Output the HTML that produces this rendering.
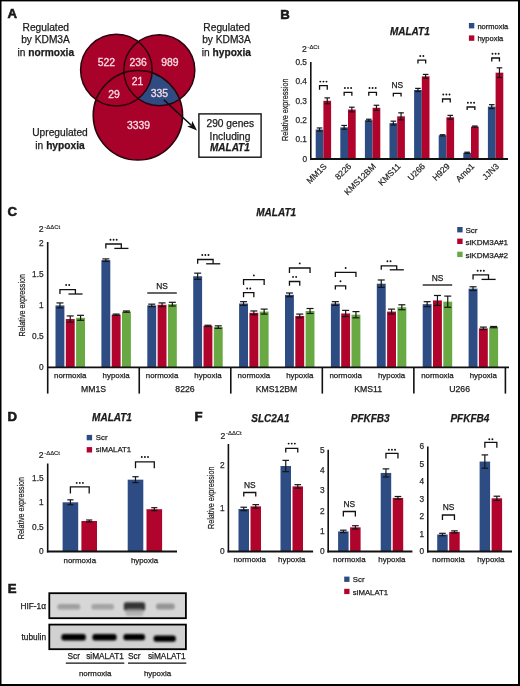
<!DOCTYPE html>
<html><head><meta charset="utf-8"><title>Figure</title>
<style>
html,body{margin:0;padding:0;background:#fff;}
body{width:520px;height:686px;overflow:hidden;font-family:"Liberation Sans",sans-serif;}
svg{display:block;will-change:transform;}
text{font-family:"Liberation Sans",sans-serif;}
</style></head><body>
<svg width="520" height="686" viewBox="0 0 520 686" font-family="Liberation Sans, sans-serif">
<rect x="0" y="0" width="520" height="1.4" fill="#000"/>
<rect x="0" y="0" width="1.5" height="686" fill="#000"/>
<rect x="518" y="0" width="2" height="686" fill="#000"/>
<rect x="0" y="684" width="520" height="2" fill="#000"/>
<text x="7.4" y="18.4" font-size="13.2" font-weight="bold" fill="#1b1b1b" stroke="#111" stroke-width="0.55">A</text>
<text x="280.3" y="18.5" font-size="13.2" font-weight="bold" fill="#1b1b1b" stroke="#111" stroke-width="0.55">B</text>
<text x="7.6" y="216" font-size="13.2" font-weight="bold" fill="#1b1b1b" stroke="#111" stroke-width="0.55">C</text>
<text x="7.6" y="421.4" font-size="13.2" font-weight="bold" fill="#1b1b1b" stroke="#111" stroke-width="0.55">D</text>
<text x="194.4" y="421.1" font-size="13.2" font-weight="bold" fill="#1b1b1b" stroke="#111" stroke-width="0.55">F</text>
<text x="7.7" y="592.6" font-size="13.2" font-weight="bold" fill="#1b1b1b" stroke="#111" stroke-width="0.55">E</text>
<defs><clipPath id="cb"><circle cx="137.9" cy="115.3" r="44.7"/></clipPath></defs>
<circle cx="116.4" cy="70.1" r="35.8" fill="#a8022b"/>
<circle cx="159.3" cy="70.2" r="35.5" fill="#a8022b"/>
<circle cx="137.9" cy="115.3" r="44.7" fill="#a8022b"/>
<circle cx="159.3" cy="70.2" r="35.5" fill="#2f4b82" clip-path="url(#cb)"/>
<circle cx="116.4" cy="70.1" r="35.8" fill="#a8022b"/>
<circle cx="116.4" cy="70.1" r="35.8" fill="none" stroke="#2a040b" stroke-width="1.5"/>
<circle cx="159.3" cy="70.2" r="35.5" fill="none" stroke="#2a040b" stroke-width="1.5"/>
<circle cx="137.9" cy="115.3" r="44.7" fill="none" stroke="#2a040b" stroke-width="1.5"/>
<text x="106.3" y="66" font-size="10.4" text-anchor="middle" fill="#f8dce2" stroke="#f8dce2" stroke-width="0.3">522</text>
<text x="138.2" y="66" font-size="10.4" text-anchor="middle" fill="#f8dce2" stroke="#f8dce2" stroke-width="0.3">236</text>
<text x="169.8" y="66.2" font-size="10.4" text-anchor="middle" fill="#f8dce2" stroke="#f8dce2" stroke-width="0.3">989</text>
<text x="137.5" y="85.4" font-size="10.4" text-anchor="middle" fill="#f8dce2" stroke="#f8dce2" stroke-width="0.3">21</text>
<text x="114" y="97.7" font-size="10.4" text-anchor="middle" fill="#f8dce2" stroke="#f8dce2" stroke-width="0.3">29</text>
<text x="159.3" y="97.4" font-size="10.4" text-anchor="middle" fill="#f8dce2" stroke="#f8dce2" stroke-width="0.3">335</text>
<text x="138.5" y="129.1" font-size="10.4" text-anchor="middle" fill="#f8dce2" stroke="#f8dce2" stroke-width="0.3">3339</text>
<text x="45.8" y="30.8" font-size="10.2" text-anchor="middle" fill="#1b1b1b" stroke="#1b1b1b" stroke-width="0.25">Regulated</text>
<text x="45.5" y="43.3" font-size="10.2" text-anchor="middle" fill="#1b1b1b" stroke="#1b1b1b" stroke-width="0.25">by KDM3A</text>
<text x="45.8" y="55.9" font-size="10.2" text-anchor="middle" fill="#1b1b1b" stroke="#1b1b1b" stroke-width="0.25">in <tspan font-weight="bold">normoxia</tspan></text>
<text x="226.6" y="30.8" font-size="10.2" text-anchor="middle" fill="#1b1b1b" stroke="#1b1b1b" stroke-width="0.25">Regulated</text>
<text x="226.5" y="43.3" font-size="10.2" text-anchor="middle" fill="#1b1b1b" stroke="#1b1b1b" stroke-width="0.25">by KDM3A</text>
<text x="226.4" y="55.9" font-size="10.2" text-anchor="middle" fill="#1b1b1b" stroke="#1b1b1b" stroke-width="0.25">in <tspan font-weight="bold">hypoxia</tspan></text>
<text x="60" y="136.2" font-size="10.2" text-anchor="middle" fill="#1b1b1b" stroke="#1b1b1b" stroke-width="0.25">Upregulated</text>
<text x="60" y="148.8" font-size="10.2" text-anchor="middle" fill="#1b1b1b" stroke="#1b1b1b" stroke-width="0.25">in <tspan font-weight="bold">hypoxia</tspan></text>
<line x1="163.9" y1="99.8" x2="191" y2="125" stroke="#111" stroke-width="1.6"/>
<path d="M197.0,130.6 L187.2,126.6 L191.3,125.3 L192.3,121.0 Z" fill="#111"/>
<rect x="198.9" y="113.9" width="62.2" height="43.3" fill="#fff" stroke="#111" stroke-width="1.4"/>
<text x="230.3" y="127.3" font-size="10.2" text-anchor="middle" fill="#1b1b1b" stroke="#1b1b1b" stroke-width="0.25">290 genes</text>
<text x="230" y="139.6" font-size="10.2" text-anchor="middle" fill="#1b1b1b" stroke="#1b1b1b" stroke-width="0.25">Including</text>
<text x="229.9" y="150.9" font-size="10" text-anchor="middle" font-weight="bold" font-style="italic" fill="#1b1b1b" stroke="#1b1b1b" stroke-width="0.25">MALAT1</text>
<text x="409.8" y="35.3" font-size="10" text-anchor="middle" font-weight="bold" font-style="italic" fill="#1b1b1b" stroke="#1b1b1b" stroke-width="0.25">MALAT1</text>
<text x="301.9" y="52.2" font-size="8.7" fill="#1b1b1b" stroke="#1b1b1b" stroke-width="0.2">2<tspan font-size="5.9" dx="0.7" dy="-3.6" stroke-width="0.15">-ΔCt</tspan></text>
<text x="0" y="0" font-size="9.3" text-anchor="middle" fill="#1b1b1b" stroke="#1b1b1b" stroke-width="0.22" transform="translate(287.6 109.8) rotate(-90) scale(0.77 1)">Relative expression</text>
<text x="307" y="161.8" font-size="8.3" text-anchor="end" fill="#2a2a2a" stroke="#2a2a2a" stroke-width="0.25">0</text>
<text x="307" y="142.4" font-size="8.3" text-anchor="end" fill="#2a2a2a" stroke="#2a2a2a" stroke-width="0.25">0.1</text>
<text x="307" y="123" font-size="8.3" text-anchor="end" fill="#2a2a2a" stroke="#2a2a2a" stroke-width="0.25">0.2</text>
<text x="307" y="103.6" font-size="8.3" text-anchor="end" fill="#2a2a2a" stroke="#2a2a2a" stroke-width="0.25">0.3</text>
<text x="307" y="84.2" font-size="8.3" text-anchor="end" fill="#2a2a2a" stroke="#2a2a2a" stroke-width="0.25">0.4</text>
<text x="307" y="64.8" font-size="8.3" text-anchor="end" fill="#2a2a2a" stroke="#2a2a2a" stroke-width="0.25">0.5</text>
<rect x="315.7" y="129.51" width="7.7" height="29.49" fill="#2d4c84"/>
<rect x="323.4" y="100.8" width="7.7" height="58.2" fill="#b0042c"/>
<line x1="319.55" y1="127.96" x2="319.55" y2="131.06" stroke="#151515" stroke-width="1.2"/>
<line x1="316.75" y1="127.96" x2="322.35" y2="127.96" stroke="#151515" stroke-width="1.2"/>
<line x1="316.75" y1="131.06" x2="322.35" y2="131.06" stroke="#151515" stroke-width="1.2"/>
<line x1="327.25" y1="97.89" x2="327.25" y2="103.71" stroke="#151515" stroke-width="1.2"/>
<line x1="324.45" y1="97.89" x2="330.05" y2="97.89" stroke="#151515" stroke-width="1.2"/>
<line x1="324.45" y1="103.71" x2="330.05" y2="103.71" stroke="#151515" stroke-width="1.2"/>
<polyline points="319.55,89.7 319.55,85.6 327.25,85.6 327.25,89.7" stroke="#111" stroke-width="1.3" fill="none" stroke-linejoin="miter" stroke-linecap="butt"/>
<circle cx="320.3" cy="81.6" r="0.95" fill="#111"/>
<circle cx="323.4" cy="81.6" r="0.95" fill="#111"/>
<circle cx="326.5" cy="81.6" r="0.95" fill="#111"/>
<text x="0" y="0" font-size="8.5" text-anchor="end" fill="#1b1b1b" stroke="#1b1b1b" stroke-width="0.2" transform="translate(327.3 166.9) rotate(-45)">MM1S</text>
<rect x="340.3" y="127.38" width="7.7" height="31.62" fill="#2d4c84"/>
<rect x="348" y="109.53" width="7.7" height="49.47" fill="#b0042c"/>
<line x1="344.15" y1="125.44" x2="344.15" y2="129.32" stroke="#151515" stroke-width="1.2"/>
<line x1="341.35" y1="125.44" x2="346.95" y2="125.44" stroke="#151515" stroke-width="1.2"/>
<line x1="341.35" y1="129.32" x2="346.95" y2="129.32" stroke="#151515" stroke-width="1.2"/>
<line x1="351.85" y1="107.2" x2="351.85" y2="111.86" stroke="#151515" stroke-width="1.2"/>
<line x1="349.05" y1="107.2" x2="354.65" y2="107.2" stroke="#151515" stroke-width="1.2"/>
<line x1="349.05" y1="111.86" x2="354.65" y2="111.86" stroke="#151515" stroke-width="1.2"/>
<polyline points="344.15,95.8 344.15,92.3 351.85,92.3 351.85,95.8" stroke="#111" stroke-width="1.3" fill="none" stroke-linejoin="miter" stroke-linecap="butt"/>
<circle cx="344.9" cy="88" r="0.95" fill="#111"/>
<circle cx="348" cy="88" r="0.95" fill="#111"/>
<circle cx="351.1" cy="88" r="0.95" fill="#111"/>
<text x="0" y="0" font-size="8.5" text-anchor="end" fill="#1b1b1b" stroke="#1b1b1b" stroke-width="0.2" transform="translate(351.9 166.9) rotate(-45)">8226</text>
<rect x="364.9" y="120.2" width="7.7" height="38.8" fill="#2d4c84"/>
<rect x="372.6" y="107.78" width="7.7" height="51.22" fill="#b0042c"/>
<line x1="368.75" y1="119.23" x2="368.75" y2="121.17" stroke="#151515" stroke-width="1.2"/>
<line x1="365.95" y1="119.23" x2="371.55" y2="119.23" stroke="#151515" stroke-width="1.2"/>
<line x1="365.95" y1="121.17" x2="371.55" y2="121.17" stroke="#151515" stroke-width="1.2"/>
<line x1="376.45" y1="105.26" x2="376.45" y2="110.31" stroke="#151515" stroke-width="1.2"/>
<line x1="373.65" y1="105.26" x2="379.25" y2="105.26" stroke="#151515" stroke-width="1.2"/>
<line x1="373.65" y1="110.31" x2="379.25" y2="110.31" stroke="#151515" stroke-width="1.2"/>
<polyline points="368.75,95.8 368.75,92.3 376.45,92.3 376.45,95.8" stroke="#111" stroke-width="1.3" fill="none" stroke-linejoin="miter" stroke-linecap="butt"/>
<circle cx="369.5" cy="88" r="0.95" fill="#111"/>
<circle cx="372.6" cy="88" r="0.95" fill="#111"/>
<circle cx="375.7" cy="88" r="0.95" fill="#111"/>
<text x="0" y="0" font-size="8.5" text-anchor="end" fill="#1b1b1b" stroke="#1b1b1b" stroke-width="0.2" transform="translate(376.5 166.9) rotate(-45)">KMS12BM</text>
<rect x="389.5" y="123.11" width="7.7" height="35.89" fill="#2d4c84"/>
<rect x="397.2" y="116.32" width="7.7" height="42.68" fill="#b0042c"/>
<line x1="393.35" y1="121.17" x2="393.35" y2="125.05" stroke="#151515" stroke-width="1.2"/>
<line x1="390.55" y1="121.17" x2="396.15" y2="121.17" stroke="#151515" stroke-width="1.2"/>
<line x1="390.55" y1="125.05" x2="396.15" y2="125.05" stroke="#151515" stroke-width="1.2"/>
<line x1="401.05" y1="112.83" x2="401.05" y2="119.81" stroke="#151515" stroke-width="1.2"/>
<line x1="398.25" y1="112.83" x2="403.85" y2="112.83" stroke="#151515" stroke-width="1.2"/>
<line x1="398.25" y1="119.81" x2="403.85" y2="119.81" stroke="#151515" stroke-width="1.2"/>
<polyline points="393.35,96.6 393.35,93.4 401.05,93.4 401.05,96.6" stroke="#111" stroke-width="1.3" fill="none" stroke-linejoin="miter" stroke-linecap="butt"/>
<text x="397.2" y="88.3" font-size="8.4" text-anchor="middle" fill="#1b1b1b" stroke="#1b1b1b" stroke-width="0.25">NS</text>
<text x="0" y="0" font-size="8.5" text-anchor="end" fill="#1b1b1b" stroke="#1b1b1b" stroke-width="0.2" transform="translate(401.1 166.9) rotate(-45)">KMS11</text>
<rect x="414.1" y="89.94" width="7.7" height="69.06" fill="#2d4c84"/>
<rect x="421.8" y="76.36" width="7.7" height="82.64" fill="#b0042c"/>
<line x1="417.95" y1="88.38" x2="417.95" y2="91.49" stroke="#151515" stroke-width="1.2"/>
<line x1="415.15" y1="88.38" x2="420.75" y2="88.38" stroke="#151515" stroke-width="1.2"/>
<line x1="415.15" y1="91.49" x2="420.75" y2="91.49" stroke="#151515" stroke-width="1.2"/>
<line x1="425.65" y1="74.42" x2="425.65" y2="78.3" stroke="#151515" stroke-width="1.2"/>
<line x1="422.85" y1="74.42" x2="428.45" y2="74.42" stroke="#151515" stroke-width="1.2"/>
<line x1="422.85" y1="78.3" x2="428.45" y2="78.3" stroke="#151515" stroke-width="1.2"/>
<polyline points="417.95,63.4 417.95,60.2 425.65,60.2 425.65,63.4" stroke="#111" stroke-width="1.3" fill="none" stroke-linejoin="miter" stroke-linecap="butt"/>
<circle cx="420.25" cy="56" r="0.95" fill="#111"/>
<circle cx="423.35" cy="56" r="0.95" fill="#111"/>
<text x="0" y="0" font-size="8.5" text-anchor="end" fill="#1b1b1b" stroke="#1b1b1b" stroke-width="0.2" transform="translate(425.7 166.9) rotate(-45)">U266</text>
<rect x="438.7" y="135.33" width="7.7" height="23.67" fill="#2d4c84"/>
<rect x="446.4" y="117.29" width="7.7" height="41.71" fill="#b0042c"/>
<line x1="442.55" y1="134.75" x2="442.55" y2="135.91" stroke="#151515" stroke-width="1.2"/>
<line x1="439.75" y1="134.75" x2="445.35" y2="134.75" stroke="#151515" stroke-width="1.2"/>
<line x1="439.75" y1="135.91" x2="445.35" y2="135.91" stroke="#151515" stroke-width="1.2"/>
<line x1="450.25" y1="115.35" x2="450.25" y2="119.23" stroke="#151515" stroke-width="1.2"/>
<line x1="447.45" y1="115.35" x2="453.05" y2="115.35" stroke="#151515" stroke-width="1.2"/>
<line x1="447.45" y1="119.23" x2="453.05" y2="119.23" stroke="#151515" stroke-width="1.2"/>
<polyline points="442.55,102.4 442.55,99 450.25,99 450.25,102.4" stroke="#111" stroke-width="1.3" fill="none" stroke-linejoin="miter" stroke-linecap="butt"/>
<circle cx="443.3" cy="94.5" r="0.95" fill="#111"/>
<circle cx="446.4" cy="94.5" r="0.95" fill="#111"/>
<circle cx="449.5" cy="94.5" r="0.95" fill="#111"/>
<text x="0" y="0" font-size="8.5" text-anchor="end" fill="#1b1b1b" stroke="#1b1b1b" stroke-width="0.2" transform="translate(450.3 166.9) rotate(-45)">H929</text>
<rect x="463.3" y="152.79" width="7.7" height="6.21" fill="#2d4c84"/>
<rect x="471" y="126.6" width="7.7" height="32.4" fill="#b0042c"/>
<line x1="467.15" y1="152.21" x2="467.15" y2="153.37" stroke="#151515" stroke-width="1.2"/>
<line x1="464.35" y1="152.21" x2="469.95" y2="152.21" stroke="#151515" stroke-width="1.2"/>
<line x1="464.35" y1="153.37" x2="469.95" y2="153.37" stroke="#151515" stroke-width="1.2"/>
<line x1="474.85" y1="126.02" x2="474.85" y2="127.18" stroke="#151515" stroke-width="1.2"/>
<line x1="472.05" y1="126.02" x2="477.65" y2="126.02" stroke="#151515" stroke-width="1.2"/>
<line x1="472.05" y1="127.18" x2="477.65" y2="127.18" stroke="#151515" stroke-width="1.2"/>
<polyline points="467.15,110 467.15,107 474.85,107 474.85,110" stroke="#111" stroke-width="1.3" fill="none" stroke-linejoin="miter" stroke-linecap="butt"/>
<circle cx="467.9" cy="102.8" r="0.95" fill="#111"/>
<circle cx="471" cy="102.8" r="0.95" fill="#111"/>
<circle cx="474.1" cy="102.8" r="0.95" fill="#111"/>
<text x="0" y="0" font-size="8.5" text-anchor="end" fill="#1b1b1b" stroke="#1b1b1b" stroke-width="0.2" transform="translate(474.9 166.9) rotate(-45)">Amo1</text>
<rect x="487.9" y="106.62" width="7.7" height="52.38" fill="#2d4c84"/>
<rect x="495.6" y="72.67" width="7.7" height="86.33" fill="#b0042c"/>
<line x1="491.75" y1="104.68" x2="491.75" y2="108.56" stroke="#151515" stroke-width="1.2"/>
<line x1="488.95" y1="104.68" x2="494.55" y2="104.68" stroke="#151515" stroke-width="1.2"/>
<line x1="488.95" y1="108.56" x2="494.55" y2="108.56" stroke="#151515" stroke-width="1.2"/>
<line x1="499.45" y1="67.82" x2="499.45" y2="77.52" stroke="#151515" stroke-width="1.2"/>
<line x1="496.65" y1="67.82" x2="502.25" y2="67.82" stroke="#151515" stroke-width="1.2"/>
<line x1="496.65" y1="77.52" x2="502.25" y2="77.52" stroke="#151515" stroke-width="1.2"/>
<polyline points="491.75,61.4 491.75,58 499.45,58 499.45,61.4" stroke="#111" stroke-width="1.3" fill="none" stroke-linejoin="miter" stroke-linecap="butt"/>
<circle cx="492.5" cy="53.8" r="0.95" fill="#111"/>
<circle cx="495.6" cy="53.8" r="0.95" fill="#111"/>
<circle cx="498.7" cy="53.8" r="0.95" fill="#111"/>
<text x="0" y="0" font-size="8.5" text-anchor="end" fill="#1b1b1b" stroke="#1b1b1b" stroke-width="0.2" transform="translate(499.5 166.9) rotate(-45)">JJN3</text>
<line x1="310.8" y1="62" x2="310.8" y2="159.9" stroke="#111" stroke-width="1.6"/>
<line x1="310" y1="159" x2="508" y2="159" stroke="#111" stroke-width="1.8"/>
<rect x="468.9" y="23" width="5.4" height="5.4" fill="#2d4c84"/>
<rect x="468.9" y="35.4" width="5.4" height="5.4" fill="#b0042c"/>
<text x="477.4" y="29" font-size="7.5" fill="#1b1b1b" stroke="#1b1b1b" stroke-width="0.25">normoxia</text>
<text x="477.4" y="41.2" font-size="7.5" fill="#1b1b1b" stroke="#1b1b1b" stroke-width="0.25">hypoxia</text>
<text x="276.2" y="215.6" font-size="10" text-anchor="middle" font-weight="bold" font-style="italic" fill="#1b1b1b" stroke="#1b1b1b" stroke-width="0.25">MALAT1</text>
<text x="38.8" y="232" font-size="8.7" fill="#1b1b1b" stroke="#1b1b1b" stroke-width="0.2">2<tspan font-size="5.9" dx="0.7" dy="-2.8" stroke-width="0.15">-ΔΔCt</tspan></text>
<text x="0" y="0" font-size="9.3" text-anchor="middle" fill="#1b1b1b" stroke="#1b1b1b" stroke-width="0.22" transform="translate(25.1 305.2) rotate(-90) scale(0.77 1)">Relative expression</text>
<text x="43.6" y="370.2" font-size="8.3" text-anchor="end" fill="#2a2a2a" stroke="#2a2a2a" stroke-width="0.25">0</text>
<text x="43.6" y="339.2" font-size="8.3" text-anchor="end" fill="#2a2a2a" stroke="#2a2a2a" stroke-width="0.25">0.5</text>
<text x="43.6" y="308.2" font-size="8.3" text-anchor="end" fill="#2a2a2a" stroke="#2a2a2a" stroke-width="0.25">1</text>
<text x="43.6" y="277.2" font-size="8.3" text-anchor="end" fill="#2a2a2a" stroke="#2a2a2a" stroke-width="0.25">1.5</text>
<text x="43.6" y="246.2" font-size="8.3" text-anchor="end" fill="#2a2a2a" stroke="#2a2a2a" stroke-width="0.25">2</text>
<rect x="55.5" y="305.4" width="8.9" height="62" fill="#2d4c84"/>
<rect x="65.8" y="319.04" width="8.9" height="48.36" fill="#b0042c"/>
<rect x="76.1" y="317.8" width="8.9" height="49.6" fill="#69a944"/>
<line x1="59.95" y1="302.92" x2="59.95" y2="307.88" stroke="#151515" stroke-width="1.2"/>
<line x1="56.45" y1="302.92" x2="63.45" y2="302.92" stroke="#151515" stroke-width="1.2"/>
<line x1="56.45" y1="307.88" x2="63.45" y2="307.88" stroke="#151515" stroke-width="1.2"/>
<line x1="70.25" y1="315.94" x2="70.25" y2="322.14" stroke="#151515" stroke-width="1.2"/>
<line x1="66.75" y1="315.94" x2="73.75" y2="315.94" stroke="#151515" stroke-width="1.2"/>
<line x1="66.75" y1="322.14" x2="73.75" y2="322.14" stroke="#151515" stroke-width="1.2"/>
<line x1="80.55" y1="315.32" x2="80.55" y2="320.28" stroke="#151515" stroke-width="1.2"/>
<line x1="77.05" y1="315.32" x2="84.05" y2="315.32" stroke="#151515" stroke-width="1.2"/>
<line x1="77.05" y1="320.28" x2="84.05" y2="320.28" stroke="#151515" stroke-width="1.2"/>
<rect x="101.4" y="260.14" width="8.9" height="107.26" fill="#2d4c84"/>
<rect x="111.7" y="314.7" width="8.9" height="52.7" fill="#b0042c"/>
<rect x="122" y="311.6" width="8.9" height="55.8" fill="#69a944"/>
<line x1="105.85" y1="258.9" x2="105.85" y2="261.38" stroke="#151515" stroke-width="1.2"/>
<line x1="102.35" y1="258.9" x2="109.35" y2="258.9" stroke="#151515" stroke-width="1.2"/>
<line x1="102.35" y1="261.38" x2="109.35" y2="261.38" stroke="#151515" stroke-width="1.2"/>
<line x1="116.15" y1="314.08" x2="116.15" y2="315.32" stroke="#151515" stroke-width="1.2"/>
<line x1="112.65" y1="314.08" x2="119.65" y2="314.08" stroke="#151515" stroke-width="1.2"/>
<line x1="112.65" y1="315.32" x2="119.65" y2="315.32" stroke="#151515" stroke-width="1.2"/>
<line x1="126.45" y1="310.98" x2="126.45" y2="312.22" stroke="#151515" stroke-width="1.2"/>
<line x1="122.95" y1="310.98" x2="129.95" y2="310.98" stroke="#151515" stroke-width="1.2"/>
<line x1="122.95" y1="312.22" x2="129.95" y2="312.22" stroke="#151515" stroke-width="1.2"/>
<rect x="147.3" y="305.4" width="8.9" height="62" fill="#2d4c84"/>
<rect x="157.6" y="304.78" width="8.9" height="62.62" fill="#b0042c"/>
<rect x="167.9" y="304.16" width="8.9" height="63.24" fill="#69a944"/>
<line x1="151.75" y1="304.16" x2="151.75" y2="306.64" stroke="#151515" stroke-width="1.2"/>
<line x1="148.25" y1="304.16" x2="155.25" y2="304.16" stroke="#151515" stroke-width="1.2"/>
<line x1="148.25" y1="306.64" x2="155.25" y2="306.64" stroke="#151515" stroke-width="1.2"/>
<line x1="162.05" y1="302.92" x2="162.05" y2="306.64" stroke="#151515" stroke-width="1.2"/>
<line x1="158.55" y1="302.92" x2="165.55" y2="302.92" stroke="#151515" stroke-width="1.2"/>
<line x1="158.55" y1="306.64" x2="165.55" y2="306.64" stroke="#151515" stroke-width="1.2"/>
<line x1="172.35" y1="302.3" x2="172.35" y2="306.02" stroke="#151515" stroke-width="1.2"/>
<line x1="168.85" y1="302.3" x2="175.85" y2="302.3" stroke="#151515" stroke-width="1.2"/>
<line x1="168.85" y1="306.02" x2="175.85" y2="306.02" stroke="#151515" stroke-width="1.2"/>
<rect x="193.2" y="276.26" width="8.9" height="91.14" fill="#2d4c84"/>
<rect x="203.5" y="325.86" width="8.9" height="41.54" fill="#b0042c"/>
<rect x="213.8" y="327.1" width="8.9" height="40.3" fill="#69a944"/>
<line x1="197.65" y1="273.16" x2="197.65" y2="279.36" stroke="#151515" stroke-width="1.2"/>
<line x1="194.15" y1="273.16" x2="201.15" y2="273.16" stroke="#151515" stroke-width="1.2"/>
<line x1="194.15" y1="279.36" x2="201.15" y2="279.36" stroke="#151515" stroke-width="1.2"/>
<line x1="207.95" y1="325.24" x2="207.95" y2="326.48" stroke="#151515" stroke-width="1.2"/>
<line x1="204.45" y1="325.24" x2="211.45" y2="325.24" stroke="#151515" stroke-width="1.2"/>
<line x1="204.45" y1="326.48" x2="211.45" y2="326.48" stroke="#151515" stroke-width="1.2"/>
<line x1="218.25" y1="325.86" x2="218.25" y2="328.34" stroke="#151515" stroke-width="1.2"/>
<line x1="214.75" y1="325.86" x2="221.75" y2="325.86" stroke="#151515" stroke-width="1.2"/>
<line x1="214.75" y1="328.34" x2="221.75" y2="328.34" stroke="#151515" stroke-width="1.2"/>
<rect x="239.1" y="303.54" width="8.9" height="63.86" fill="#2d4c84"/>
<rect x="249.4" y="312.84" width="8.9" height="54.56" fill="#b0042c"/>
<rect x="259.7" y="311.6" width="8.9" height="55.8" fill="#69a944"/>
<line x1="243.55" y1="301.68" x2="243.55" y2="305.4" stroke="#151515" stroke-width="1.2"/>
<line x1="240.05" y1="301.68" x2="247.05" y2="301.68" stroke="#151515" stroke-width="1.2"/>
<line x1="240.05" y1="305.4" x2="247.05" y2="305.4" stroke="#151515" stroke-width="1.2"/>
<line x1="253.85" y1="310.98" x2="253.85" y2="314.7" stroke="#151515" stroke-width="1.2"/>
<line x1="250.35" y1="310.98" x2="257.35" y2="310.98" stroke="#151515" stroke-width="1.2"/>
<line x1="250.35" y1="314.7" x2="257.35" y2="314.7" stroke="#151515" stroke-width="1.2"/>
<line x1="264.15" y1="309.12" x2="264.15" y2="314.08" stroke="#151515" stroke-width="1.2"/>
<line x1="260.65" y1="309.12" x2="267.65" y2="309.12" stroke="#151515" stroke-width="1.2"/>
<line x1="260.65" y1="314.08" x2="267.65" y2="314.08" stroke="#151515" stroke-width="1.2"/>
<rect x="285" y="294.86" width="8.9" height="72.54" fill="#2d4c84"/>
<rect x="295.3" y="315.94" width="8.9" height="51.46" fill="#b0042c"/>
<rect x="305.6" y="310.98" width="8.9" height="56.42" fill="#69a944"/>
<line x1="289.45" y1="293" x2="289.45" y2="296.72" stroke="#151515" stroke-width="1.2"/>
<line x1="285.95" y1="293" x2="292.95" y2="293" stroke="#151515" stroke-width="1.2"/>
<line x1="285.95" y1="296.72" x2="292.95" y2="296.72" stroke="#151515" stroke-width="1.2"/>
<line x1="299.75" y1="314.08" x2="299.75" y2="317.8" stroke="#151515" stroke-width="1.2"/>
<line x1="296.25" y1="314.08" x2="303.25" y2="314.08" stroke="#151515" stroke-width="1.2"/>
<line x1="296.25" y1="317.8" x2="303.25" y2="317.8" stroke="#151515" stroke-width="1.2"/>
<line x1="310.05" y1="308.5" x2="310.05" y2="313.46" stroke="#151515" stroke-width="1.2"/>
<line x1="306.55" y1="308.5" x2="313.55" y2="308.5" stroke="#151515" stroke-width="1.2"/>
<line x1="306.55" y1="313.46" x2="313.55" y2="313.46" stroke="#151515" stroke-width="1.2"/>
<rect x="330.9" y="303.54" width="8.9" height="63.86" fill="#2d4c84"/>
<rect x="341.2" y="313.46" width="8.9" height="53.94" fill="#b0042c"/>
<rect x="351.5" y="314.7" width="8.9" height="52.7" fill="#69a944"/>
<line x1="335.35" y1="301.68" x2="335.35" y2="305.4" stroke="#151515" stroke-width="1.2"/>
<line x1="331.85" y1="301.68" x2="338.85" y2="301.68" stroke="#151515" stroke-width="1.2"/>
<line x1="331.85" y1="305.4" x2="338.85" y2="305.4" stroke="#151515" stroke-width="1.2"/>
<line x1="345.65" y1="310.36" x2="345.65" y2="316.56" stroke="#151515" stroke-width="1.2"/>
<line x1="342.15" y1="310.36" x2="349.15" y2="310.36" stroke="#151515" stroke-width="1.2"/>
<line x1="342.15" y1="316.56" x2="349.15" y2="316.56" stroke="#151515" stroke-width="1.2"/>
<line x1="355.95" y1="311.6" x2="355.95" y2="317.8" stroke="#151515" stroke-width="1.2"/>
<line x1="352.45" y1="311.6" x2="359.45" y2="311.6" stroke="#151515" stroke-width="1.2"/>
<line x1="352.45" y1="317.8" x2="359.45" y2="317.8" stroke="#151515" stroke-width="1.2"/>
<rect x="376.8" y="283.7" width="8.9" height="83.7" fill="#2d4c84"/>
<rect x="387.1" y="311.6" width="8.9" height="55.8" fill="#b0042c"/>
<rect x="397.4" y="307.26" width="8.9" height="60.14" fill="#69a944"/>
<line x1="381.25" y1="279.98" x2="381.25" y2="287.42" stroke="#151515" stroke-width="1.2"/>
<line x1="377.75" y1="279.98" x2="384.75" y2="279.98" stroke="#151515" stroke-width="1.2"/>
<line x1="377.75" y1="287.42" x2="384.75" y2="287.42" stroke="#151515" stroke-width="1.2"/>
<line x1="391.55" y1="309.12" x2="391.55" y2="314.08" stroke="#151515" stroke-width="1.2"/>
<line x1="388.05" y1="309.12" x2="395.05" y2="309.12" stroke="#151515" stroke-width="1.2"/>
<line x1="388.05" y1="314.08" x2="395.05" y2="314.08" stroke="#151515" stroke-width="1.2"/>
<line x1="401.85" y1="304.78" x2="401.85" y2="309.74" stroke="#151515" stroke-width="1.2"/>
<line x1="398.35" y1="304.78" x2="405.35" y2="304.78" stroke="#151515" stroke-width="1.2"/>
<line x1="398.35" y1="309.74" x2="405.35" y2="309.74" stroke="#151515" stroke-width="1.2"/>
<rect x="422.7" y="304.16" width="8.9" height="63.24" fill="#2d4c84"/>
<rect x="433" y="300.44" width="8.9" height="66.96" fill="#b0042c"/>
<rect x="443.3" y="301.68" width="8.9" height="65.72" fill="#69a944"/>
<line x1="427.15" y1="301.68" x2="427.15" y2="306.64" stroke="#151515" stroke-width="1.2"/>
<line x1="423.65" y1="301.68" x2="430.65" y2="301.68" stroke="#151515" stroke-width="1.2"/>
<line x1="423.65" y1="306.64" x2="430.65" y2="306.64" stroke="#151515" stroke-width="1.2"/>
<line x1="437.45" y1="295.48" x2="437.45" y2="305.4" stroke="#151515" stroke-width="1.2"/>
<line x1="433.95" y1="295.48" x2="440.95" y2="295.48" stroke="#151515" stroke-width="1.2"/>
<line x1="433.95" y1="305.4" x2="440.95" y2="305.4" stroke="#151515" stroke-width="1.2"/>
<line x1="447.75" y1="296.1" x2="447.75" y2="307.26" stroke="#151515" stroke-width="1.2"/>
<line x1="444.25" y1="296.1" x2="451.25" y2="296.1" stroke="#151515" stroke-width="1.2"/>
<line x1="444.25" y1="307.26" x2="451.25" y2="307.26" stroke="#151515" stroke-width="1.2"/>
<rect x="468.6" y="288.66" width="8.9" height="78.74" fill="#2d4c84"/>
<rect x="478.9" y="328.34" width="8.9" height="39.06" fill="#b0042c"/>
<rect x="489.2" y="327.1" width="8.9" height="40.3" fill="#69a944"/>
<line x1="473.05" y1="286.8" x2="473.05" y2="290.52" stroke="#151515" stroke-width="1.2"/>
<line x1="469.55" y1="286.8" x2="476.55" y2="286.8" stroke="#151515" stroke-width="1.2"/>
<line x1="469.55" y1="290.52" x2="476.55" y2="290.52" stroke="#151515" stroke-width="1.2"/>
<line x1="483.35" y1="327.1" x2="483.35" y2="329.58" stroke="#151515" stroke-width="1.2"/>
<line x1="479.85" y1="327.1" x2="486.85" y2="327.1" stroke="#151515" stroke-width="1.2"/>
<line x1="479.85" y1="329.58" x2="486.85" y2="329.58" stroke="#151515" stroke-width="1.2"/>
<line x1="493.65" y1="326.48" x2="493.65" y2="327.72" stroke="#151515" stroke-width="1.2"/>
<line x1="490.15" y1="326.48" x2="497.15" y2="326.48" stroke="#151515" stroke-width="1.2"/>
<line x1="490.15" y1="327.72" x2="497.15" y2="327.72" stroke="#151515" stroke-width="1.2"/>
<polyline points="59.95,294 59.95,289.6 75.4,289.6 75.4,294" stroke="#111" stroke-width="1.3" fill="none" stroke-linejoin="miter" stroke-linecap="butt"/>
<line x1="68.45" y1="294" x2="82.55" y2="294" stroke="#111" stroke-width="1.3"/>
<circle cx="66.13" cy="285" r="0.95" fill="#111"/>
<circle cx="69.23" cy="285" r="0.95" fill="#111"/>
<polyline points="105.85,248.4 105.85,244 121.3,244 121.3,248.4" stroke="#111" stroke-width="1.3" fill="none" stroke-linejoin="miter" stroke-linecap="butt"/>
<line x1="114.35" y1="248.4" x2="128.45" y2="248.4" stroke="#111" stroke-width="1.3"/>
<circle cx="110.48" cy="239.7" r="0.95" fill="#111"/>
<circle cx="113.58" cy="239.7" r="0.95" fill="#111"/>
<circle cx="116.68" cy="239.7" r="0.95" fill="#111"/>
<line x1="147.3" y1="293" x2="176.8" y2="293" stroke="#111" stroke-width="1.3"/>
<text x="162.05" y="289.2" font-size="8.4" text-anchor="middle" fill="#1b1b1b" stroke="#1b1b1b" stroke-width="0.25">NS</text>
<polyline points="197.65,263.8 197.65,259.5 213.1,259.5 213.1,263.8" stroke="#111" stroke-width="1.3" fill="none" stroke-linejoin="miter" stroke-linecap="butt"/>
<line x1="206.15" y1="263.8" x2="220.25" y2="263.8" stroke="#111" stroke-width="1.3"/>
<circle cx="202.27" cy="255" r="0.95" fill="#111"/>
<circle cx="205.37" cy="255" r="0.95" fill="#111"/>
<circle cx="208.47" cy="255" r="0.95" fill="#111"/>
<polyline points="243.55,284.9 243.55,279.7 264.15,279.7 264.15,284.9" stroke="#111" stroke-width="1.3" fill="none" stroke-linejoin="miter" stroke-linecap="butt"/>
<circle cx="253.85" cy="275.4" r="0.95" fill="#111"/>
<polyline points="243.55,297.2 243.55,292.6 253.85,292.6 253.85,297.2" stroke="#111" stroke-width="1.3" fill="none" stroke-linejoin="miter" stroke-linecap="butt"/>
<circle cx="247.15" cy="288.5" r="0.95" fill="#111"/>
<circle cx="250.25" cy="288.5" r="0.95" fill="#111"/>
<polyline points="289.45,273.1 289.45,268 310.05,268 310.05,273.1" stroke="#111" stroke-width="1.3" fill="none" stroke-linejoin="miter" stroke-linecap="butt"/>
<circle cx="299.75" cy="263.4" r="0.95" fill="#111"/>
<polyline points="289.45,285.8 289.45,281.5 299.75,281.5 299.75,285.8" stroke="#111" stroke-width="1.3" fill="none" stroke-linejoin="miter" stroke-linecap="butt"/>
<circle cx="293.05" cy="276.9" r="0.95" fill="#111"/>
<circle cx="296.15" cy="276.9" r="0.95" fill="#111"/>
<polyline points="335.35,277 335.35,272.4 355.95,272.4 355.95,277" stroke="#111" stroke-width="1.3" fill="none" stroke-linejoin="miter" stroke-linecap="butt"/>
<circle cx="345.65" cy="268" r="0.95" fill="#111"/>
<polyline points="335.35,289.6 335.35,285.8 345.65,285.8 345.65,289.6" stroke="#111" stroke-width="1.3" fill="none" stroke-linejoin="miter" stroke-linecap="butt"/>
<circle cx="340.5" cy="281.2" r="0.95" fill="#111"/>
<polyline points="381.25,269.8 381.25,265.8 396.7,265.8 396.7,269.8" stroke="#111" stroke-width="1.3" fill="none" stroke-linejoin="miter" stroke-linecap="butt"/>
<line x1="389.75" y1="269.8" x2="403.85" y2="269.8" stroke="#111" stroke-width="1.3"/>
<circle cx="387.43" cy="261.2" r="0.95" fill="#111"/>
<circle cx="390.53" cy="261.2" r="0.95" fill="#111"/>
<line x1="422.7" y1="285" x2="452.2" y2="285" stroke="#111" stroke-width="1.3"/>
<text x="437.45" y="281.2" font-size="8.4" text-anchor="middle" fill="#1b1b1b" stroke="#1b1b1b" stroke-width="0.25">NS</text>
<polyline points="473.05,279.4 473.05,274.8 488.5,274.8 488.5,279.4" stroke="#111" stroke-width="1.3" fill="none" stroke-linejoin="miter" stroke-linecap="butt"/>
<line x1="481.55" y1="279.4" x2="495.65" y2="279.4" stroke="#111" stroke-width="1.3"/>
<circle cx="477.67" cy="270.8" r="0.95" fill="#111"/>
<circle cx="480.77" cy="270.8" r="0.95" fill="#111"/>
<circle cx="483.87" cy="270.8" r="0.95" fill="#111"/>
<line x1="47.7" y1="242" x2="47.7" y2="393.6" stroke="#111" stroke-width="1.6"/>
<line x1="47.7" y1="367.4" x2="509" y2="367.4" stroke="#111" stroke-width="1.8"/>
<line x1="139.24" y1="367.4" x2="139.24" y2="393.6" stroke="#111" stroke-width="1.6"/>
<line x1="230.78" y1="367.4" x2="230.78" y2="393.6" stroke="#111" stroke-width="1.6"/>
<line x1="322.32" y1="367.4" x2="322.32" y2="393.6" stroke="#111" stroke-width="1.6"/>
<line x1="413.86" y1="367.4" x2="413.86" y2="393.6" stroke="#111" stroke-width="1.6"/>
<line x1="505.4" y1="367.4" x2="505.4" y2="393.6" stroke="#111" stroke-width="1.6"/>
<text x="70.25" y="378.4" font-size="7.9" text-anchor="middle" fill="#1b1b1b" stroke="#1b1b1b" stroke-width="0.25">normoxia</text>
<text x="116.15" y="378.4" font-size="7.9" text-anchor="middle" fill="#1b1b1b" stroke="#1b1b1b" stroke-width="0.25">hypoxia</text>
<text x="162.05" y="378.4" font-size="7.9" text-anchor="middle" fill="#1b1b1b" stroke="#1b1b1b" stroke-width="0.25">normoxia</text>
<text x="207.95" y="378.4" font-size="7.9" text-anchor="middle" fill="#1b1b1b" stroke="#1b1b1b" stroke-width="0.25">hypoxia</text>
<text x="253.85" y="378.4" font-size="7.9" text-anchor="middle" fill="#1b1b1b" stroke="#1b1b1b" stroke-width="0.25">normoxia</text>
<text x="299.75" y="378.4" font-size="7.9" text-anchor="middle" fill="#1b1b1b" stroke="#1b1b1b" stroke-width="0.25">hypoxia</text>
<text x="345.65" y="378.4" font-size="7.9" text-anchor="middle" fill="#1b1b1b" stroke="#1b1b1b" stroke-width="0.25">normoxia</text>
<text x="391.55" y="378.4" font-size="7.9" text-anchor="middle" fill="#1b1b1b" stroke="#1b1b1b" stroke-width="0.25">hypoxia</text>
<text x="437.45" y="378.4" font-size="7.9" text-anchor="middle" fill="#1b1b1b" stroke="#1b1b1b" stroke-width="0.25">normoxia</text>
<text x="483.35" y="378.4" font-size="7.9" text-anchor="middle" fill="#1b1b1b" stroke="#1b1b1b" stroke-width="0.25">hypoxia</text>
<text x="93.47" y="391.6" font-size="8.7" text-anchor="middle" fill="#1b1b1b" stroke="#1b1b1b" stroke-width="0.25">MM1S</text>
<text x="185.01" y="391.6" font-size="8.7" text-anchor="middle" fill="#1b1b1b" stroke="#1b1b1b" stroke-width="0.25">8226</text>
<text x="276.55" y="391.6" font-size="8.7" text-anchor="middle" fill="#1b1b1b" stroke="#1b1b1b" stroke-width="0.25">KMS12BM</text>
<text x="368.09" y="391.6" font-size="8.7" text-anchor="middle" fill="#1b1b1b" stroke="#1b1b1b" stroke-width="0.25">KMS11</text>
<text x="459.63" y="391.6" font-size="8.7" text-anchor="middle" fill="#1b1b1b" stroke="#1b1b1b" stroke-width="0.25">U266</text>
<rect x="457.2" y="227" width="5.4" height="5.4" fill="#2d4c84"/>
<rect x="457.2" y="238.6" width="5.4" height="5.4" fill="#b0042c"/>
<rect x="457.2" y="251.7" width="5.4" height="5.4" fill="#69a944"/>
<text x="465.4" y="232.5" font-size="8.1" fill="#1b1b1b" stroke="#1b1b1b" stroke-width="0.25">Scr</text>
<text x="465.4" y="245" font-size="8.1" fill="#1b1b1b" stroke="#1b1b1b" stroke-width="0.25">siKDM3A#1</text>
<text x="465.4" y="257.5" font-size="8.1" fill="#1b1b1b" stroke="#1b1b1b" stroke-width="0.25">siKDM3A#2</text>
<text x="112" y="421.4" font-size="10" text-anchor="middle" font-weight="bold" font-style="italic" fill="#1b1b1b" stroke="#1b1b1b" stroke-width="0.25">MALAT1</text>
<rect x="86.7" y="434.9" width="5.4" height="5.4" fill="#2d4c84"/>
<rect x="86.7" y="447.1" width="5.4" height="5.4" fill="#b0042c"/>
<text x="95.8" y="439.9" font-size="7.8" fill="#1b1b1b" stroke="#1b1b1b" stroke-width="0.25">Scr</text>
<text x="95.8" y="452.3" font-size="7.8" fill="#1b1b1b" stroke="#1b1b1b" stroke-width="0.25">siMALAT1</text>
<text x="38.7" y="457.8" font-size="8.7" fill="#1b1b1b" stroke="#1b1b1b" stroke-width="0.2">2<tspan font-size="5.9" dx="0.7" dy="-3.2" stroke-width="0.15">-ΔΔCt</tspan></text>
<text x="0" y="0" font-size="9.3" text-anchor="middle" fill="#1b1b1b" stroke="#1b1b1b" stroke-width="0.22" transform="translate(24.4 508.1) rotate(-90) scale(0.77 1)">Relative expression</text>
<text x="43.6" y="554.3" font-size="8.3" text-anchor="end" fill="#2a2a2a" stroke="#2a2a2a" stroke-width="0.25">0</text>
<text x="43.6" y="529.7" font-size="8.3" text-anchor="end" fill="#2a2a2a" stroke="#2a2a2a" stroke-width="0.25">0.5</text>
<text x="43.6" y="505.1" font-size="8.3" text-anchor="end" fill="#2a2a2a" stroke="#2a2a2a" stroke-width="0.25">1</text>
<text x="43.6" y="480.5" font-size="8.3" text-anchor="end" fill="#2a2a2a" stroke="#2a2a2a" stroke-width="0.25">1.5</text>
<rect x="62.6" y="502.3" width="15.6" height="49.2" fill="#2d4c84"/>
<rect x="81.4" y="521" width="15.6" height="30.5" fill="#b0042c"/>
<line x1="70.4" y1="499.84" x2="70.4" y2="504.76" stroke="#151515" stroke-width="1.2"/>
<line x1="67.3" y1="499.84" x2="73.5" y2="499.84" stroke="#151515" stroke-width="1.2"/>
<line x1="67.3" y1="504.76" x2="73.5" y2="504.76" stroke="#151515" stroke-width="1.2"/>
<line x1="89.2" y1="520.01" x2="89.2" y2="521.98" stroke="#151515" stroke-width="1.2"/>
<line x1="86.1" y1="520.01" x2="92.3" y2="520.01" stroke="#151515" stroke-width="1.2"/>
<line x1="86.1" y1="521.98" x2="92.3" y2="521.98" stroke="#151515" stroke-width="1.2"/>
<polyline points="70.4,493.4 70.4,486.9 89.2,486.9 89.2,493.4" stroke="#111" stroke-width="1.3" fill="none" stroke-linejoin="miter" stroke-linecap="butt"/>
<circle cx="76.7" cy="482.9" r="0.95" fill="#111"/>
<circle cx="79.8" cy="482.9" r="0.95" fill="#111"/>
<circle cx="82.9" cy="482.9" r="0.95" fill="#111"/>
<rect x="127.7" y="479.67" width="15.6" height="71.83" fill="#2d4c84"/>
<rect x="146.5" y="509.19" width="15.6" height="42.31" fill="#b0042c"/>
<line x1="135.5" y1="476.72" x2="135.5" y2="482.62" stroke="#151515" stroke-width="1.2"/>
<line x1="132.4" y1="476.72" x2="138.6" y2="476.72" stroke="#151515" stroke-width="1.2"/>
<line x1="132.4" y1="482.62" x2="138.6" y2="482.62" stroke="#151515" stroke-width="1.2"/>
<line x1="154.3" y1="507.71" x2="154.3" y2="510.66" stroke="#151515" stroke-width="1.2"/>
<line x1="151.2" y1="507.71" x2="157.4" y2="507.71" stroke="#151515" stroke-width="1.2"/>
<line x1="151.2" y1="510.66" x2="157.4" y2="510.66" stroke="#151515" stroke-width="1.2"/>
<polyline points="135.5,468.3 135.5,461.8 154.3,461.8 154.3,468.3" stroke="#111" stroke-width="1.3" fill="none" stroke-linejoin="miter" stroke-linecap="butt"/>
<circle cx="141.8" cy="457" r="0.95" fill="#111"/>
<circle cx="144.9" cy="457" r="0.95" fill="#111"/>
<circle cx="148" cy="457" r="0.95" fill="#111"/>
<line x1="47.7" y1="463.5" x2="47.7" y2="552.4" stroke="#111" stroke-width="1.6"/>
<line x1="46.9" y1="551.5" x2="177" y2="551.5" stroke="#111" stroke-width="1.8"/>
<text x="79.8" y="563" font-size="7.9" text-anchor="middle" fill="#1b1b1b" stroke="#1b1b1b" stroke-width="0.25">normoxia</text>
<text x="144.5" y="563" font-size="7.9" text-anchor="middle" fill="#1b1b1b" stroke="#1b1b1b" stroke-width="0.25">hypoxia</text>
<text x="220.5" y="438.7" font-size="8.7" fill="#1b1b1b" stroke="#1b1b1b" stroke-width="0.2">2<tspan font-size="5.9" dx="0.7" dy="-3.6" stroke-width="0.15">-ΔΔCt</tspan></text>
<text x="0" y="0" font-size="9.3" text-anchor="middle" fill="#1b1b1b" stroke="#1b1b1b" stroke-width="0.22" transform="translate(213.5 497.8) rotate(-90) scale(0.77 1)">Relative expression</text>
<text x="270.4" y="421.6" font-size="10" text-anchor="middle" font-weight="bold" font-style="italic" fill="#1b1b1b" stroke="#1b1b1b" stroke-width="0.25">SLC2A1</text>
<text x="224.6" y="554.3" font-size="8.3" text-anchor="end" fill="#2a2a2a" stroke="#2a2a2a" stroke-width="0.25">0</text>
<text x="224.6" y="510.9" font-size="8.3" text-anchor="end" fill="#2a2a2a" stroke="#2a2a2a" stroke-width="0.25">1</text>
<text x="224.6" y="467.5" font-size="8.3" text-anchor="end" fill="#2a2a2a" stroke="#2a2a2a" stroke-width="0.25">2</text>
<rect x="238.5" y="508.97" width="10.5" height="42.53" fill="#2d4c84"/>
<rect x="250.5" y="506.36" width="10.5" height="45.14" fill="#b0042c"/>
<line x1="243.75" y1="507.23" x2="243.75" y2="510.7" stroke="#151515" stroke-width="1.2"/>
<line x1="240.45" y1="507.23" x2="247.05" y2="507.23" stroke="#151515" stroke-width="1.2"/>
<line x1="240.45" y1="510.7" x2="247.05" y2="510.7" stroke="#151515" stroke-width="1.2"/>
<line x1="255.75" y1="504.63" x2="255.75" y2="508.1" stroke="#151515" stroke-width="1.2"/>
<line x1="252.45" y1="504.63" x2="259.05" y2="504.63" stroke="#151515" stroke-width="1.2"/>
<line x1="252.45" y1="508.1" x2="259.05" y2="508.1" stroke="#151515" stroke-width="1.2"/>
<polyline points="243.75,496.6 243.75,492.5 255.75,492.5 255.75,496.6" stroke="#111" stroke-width="1.3" fill="none" stroke-linejoin="miter" stroke-linecap="butt"/>
<text x="249.75" y="487.6" font-size="8.4" text-anchor="middle" fill="#1b1b1b" stroke="#1b1b1b" stroke-width="0.25">NS</text>
<text x="249.7" y="562.4" font-size="7.9" text-anchor="middle" fill="#1b1b1b" stroke="#1b1b1b" stroke-width="0.25">normoxia</text>
<rect x="280.5" y="466" width="10.5" height="85.5" fill="#2d4c84"/>
<rect x="292.5" y="486.4" width="10.5" height="65.1" fill="#b0042c"/>
<line x1="285.75" y1="460.36" x2="285.75" y2="471.64" stroke="#151515" stroke-width="1.2"/>
<line x1="282.45" y1="460.36" x2="289.05" y2="460.36" stroke="#151515" stroke-width="1.2"/>
<line x1="282.45" y1="471.64" x2="289.05" y2="471.64" stroke="#151515" stroke-width="1.2"/>
<line x1="297.75" y1="484.66" x2="297.75" y2="488.14" stroke="#151515" stroke-width="1.2"/>
<line x1="294.45" y1="484.66" x2="301.05" y2="484.66" stroke="#151515" stroke-width="1.2"/>
<line x1="294.45" y1="488.14" x2="301.05" y2="488.14" stroke="#151515" stroke-width="1.2"/>
<polyline points="285.75,452.5 285.75,448.3 297.75,448.3 297.75,452.5" stroke="#111" stroke-width="1.3" fill="none" stroke-linejoin="miter" stroke-linecap="butt"/>
<circle cx="288.65" cy="443.6" r="0.95" fill="#111"/>
<circle cx="291.75" cy="443.6" r="0.95" fill="#111"/>
<circle cx="294.85" cy="443.6" r="0.95" fill="#111"/>
<text x="291.7" y="562.4" font-size="7.9" text-anchor="middle" fill="#1b1b1b" stroke="#1b1b1b" stroke-width="0.25">hypoxia</text>
<line x1="228.4" y1="444" x2="228.4" y2="552.4" stroke="#111" stroke-width="1.6"/>
<line x1="227.6" y1="551.5" x2="313.1" y2="551.5" stroke="#111" stroke-width="1.8"/>
<text x="370.2" y="421.6" font-size="10" text-anchor="middle" font-weight="bold" font-style="italic" fill="#1b1b1b" stroke="#1b1b1b" stroke-width="0.25">PFKFB3</text>
<text x="324.6" y="554.3" font-size="8.3" text-anchor="end" fill="#2a2a2a" stroke="#2a2a2a" stroke-width="0.25">0</text>
<text x="324.6" y="534" font-size="8.3" text-anchor="end" fill="#2a2a2a" stroke="#2a2a2a" stroke-width="0.25">1</text>
<text x="324.6" y="513.7" font-size="8.3" text-anchor="end" fill="#2a2a2a" stroke="#2a2a2a" stroke-width="0.25">2</text>
<text x="324.6" y="493.4" font-size="8.3" text-anchor="end" fill="#2a2a2a" stroke="#2a2a2a" stroke-width="0.25">3</text>
<text x="324.6" y="473.1" font-size="8.3" text-anchor="end" fill="#2a2a2a" stroke="#2a2a2a" stroke-width="0.25">4</text>
<text x="324.6" y="452.8" font-size="8.3" text-anchor="end" fill="#2a2a2a" stroke="#2a2a2a" stroke-width="0.25">5</text>
<rect x="338.1" y="531.4" width="10.5" height="20.1" fill="#2d4c84"/>
<rect x="350.1" y="527.34" width="10.5" height="24.16" fill="#b0042c"/>
<line x1="343.35" y1="530.18" x2="343.35" y2="532.62" stroke="#151515" stroke-width="1.2"/>
<line x1="340.05" y1="530.18" x2="346.65" y2="530.18" stroke="#151515" stroke-width="1.2"/>
<line x1="340.05" y1="532.62" x2="346.65" y2="532.62" stroke="#151515" stroke-width="1.2"/>
<line x1="355.35" y1="525.72" x2="355.35" y2="528.97" stroke="#151515" stroke-width="1.2"/>
<line x1="352.05" y1="525.72" x2="358.65" y2="525.72" stroke="#151515" stroke-width="1.2"/>
<line x1="352.05" y1="528.97" x2="358.65" y2="528.97" stroke="#151515" stroke-width="1.2"/>
<polyline points="343.35,516.5 343.35,511.5 355.35,511.5 355.35,516.5" stroke="#111" stroke-width="1.3" fill="none" stroke-linejoin="miter" stroke-linecap="butt"/>
<text x="349.35" y="506.7" font-size="8.4" text-anchor="middle" fill="#1b1b1b" stroke="#1b1b1b" stroke-width="0.25">NS</text>
<text x="349.3" y="562.4" font-size="7.9" text-anchor="middle" fill="#1b1b1b" stroke="#1b1b1b" stroke-width="0.25">normoxia</text>
<rect x="380.7" y="472.94" width="10.5" height="78.56" fill="#2d4c84"/>
<rect x="392.7" y="497.91" width="10.5" height="53.59" fill="#b0042c"/>
<line x1="385.95" y1="468.88" x2="385.95" y2="477" stroke="#151515" stroke-width="1.2"/>
<line x1="382.65" y1="468.88" x2="389.25" y2="468.88" stroke="#151515" stroke-width="1.2"/>
<line x1="382.65" y1="477" x2="389.25" y2="477" stroke="#151515" stroke-width="1.2"/>
<line x1="397.95" y1="496.49" x2="397.95" y2="499.33" stroke="#151515" stroke-width="1.2"/>
<line x1="394.65" y1="496.49" x2="401.25" y2="496.49" stroke="#151515" stroke-width="1.2"/>
<line x1="394.65" y1="499.33" x2="401.25" y2="499.33" stroke="#151515" stroke-width="1.2"/>
<polyline points="385.95,458.6 385.95,453.3 397.95,453.3 397.95,458.6" stroke="#111" stroke-width="1.3" fill="none" stroke-linejoin="miter" stroke-linecap="butt"/>
<circle cx="388.85" cy="449.7" r="0.95" fill="#111"/>
<circle cx="391.95" cy="449.7" r="0.95" fill="#111"/>
<circle cx="395.05" cy="449.7" r="0.95" fill="#111"/>
<text x="391.9" y="562.4" font-size="7.9" text-anchor="middle" fill="#1b1b1b" stroke="#1b1b1b" stroke-width="0.25">hypoxia</text>
<line x1="328.2" y1="449.7" x2="328.2" y2="552.4" stroke="#111" stroke-width="1.6"/>
<line x1="327.4" y1="551.5" x2="412.4" y2="551.5" stroke="#111" stroke-width="1.8"/>
<text x="469.9" y="421.6" font-size="10" text-anchor="middle" font-weight="bold" font-style="italic" fill="#1b1b1b" stroke="#1b1b1b" stroke-width="0.25">PFKFB4</text>
<text x="424.2" y="554.3" font-size="8.3" text-anchor="end" fill="#2a2a2a" stroke="#2a2a2a" stroke-width="0.25">0</text>
<text x="424.2" y="536.8" font-size="8.3" text-anchor="end" fill="#2a2a2a" stroke="#2a2a2a" stroke-width="0.25">1</text>
<text x="424.2" y="519.3" font-size="8.3" text-anchor="end" fill="#2a2a2a" stroke="#2a2a2a" stroke-width="0.25">2</text>
<text x="424.2" y="501.8" font-size="8.3" text-anchor="end" fill="#2a2a2a" stroke="#2a2a2a" stroke-width="0.25">3</text>
<text x="424.2" y="484.3" font-size="8.3" text-anchor="end" fill="#2a2a2a" stroke="#2a2a2a" stroke-width="0.25">4</text>
<text x="424.2" y="466.8" font-size="8.3" text-anchor="end" fill="#2a2a2a" stroke="#2a2a2a" stroke-width="0.25">5</text>
<text x="424.2" y="449.3" font-size="8.3" text-anchor="end" fill="#2a2a2a" stroke="#2a2a2a" stroke-width="0.25">6</text>
<rect x="437.2" y="534.52" width="10.5" height="16.98" fill="#2d4c84"/>
<rect x="449.2" y="531.9" width="10.5" height="19.6" fill="#b0042c"/>
<line x1="442.45" y1="533.3" x2="442.45" y2="535.75" stroke="#151515" stroke-width="1.2"/>
<line x1="439.15" y1="533.3" x2="445.75" y2="533.3" stroke="#151515" stroke-width="1.2"/>
<line x1="439.15" y1="535.75" x2="445.75" y2="535.75" stroke="#151515" stroke-width="1.2"/>
<line x1="454.45" y1="530.85" x2="454.45" y2="532.95" stroke="#151515" stroke-width="1.2"/>
<line x1="451.15" y1="530.85" x2="457.75" y2="530.85" stroke="#151515" stroke-width="1.2"/>
<line x1="451.15" y1="532.95" x2="457.75" y2="532.95" stroke="#151515" stroke-width="1.2"/>
<polyline points="442.45,520 442.45,515 454.45,515 454.45,520" stroke="#111" stroke-width="1.3" fill="none" stroke-linejoin="miter" stroke-linecap="butt"/>
<text x="448.45" y="510" font-size="8.4" text-anchor="middle" fill="#1b1b1b" stroke="#1b1b1b" stroke-width="0.25">NS</text>
<text x="448.4" y="562.4" font-size="7.9" text-anchor="middle" fill="#1b1b1b" stroke="#1b1b1b" stroke-width="0.25">normoxia</text>
<rect x="479.6" y="461.55" width="10.5" height="89.95" fill="#2d4c84"/>
<rect x="491.6" y="498.3" width="10.5" height="53.2" fill="#b0042c"/>
<line x1="484.85" y1="454.9" x2="484.85" y2="468.2" stroke="#151515" stroke-width="1.2"/>
<line x1="481.55" y1="454.9" x2="488.15" y2="454.9" stroke="#151515" stroke-width="1.2"/>
<line x1="481.55" y1="468.2" x2="488.15" y2="468.2" stroke="#151515" stroke-width="1.2"/>
<line x1="496.85" y1="496.2" x2="496.85" y2="500.4" stroke="#151515" stroke-width="1.2"/>
<line x1="493.55" y1="496.2" x2="500.15" y2="496.2" stroke="#151515" stroke-width="1.2"/>
<line x1="493.55" y1="500.4" x2="500.15" y2="500.4" stroke="#151515" stroke-width="1.2"/>
<polyline points="484.85,447.7 484.85,442.4 496.85,442.4 496.85,447.7" stroke="#111" stroke-width="1.3" fill="none" stroke-linejoin="miter" stroke-linecap="butt"/>
<circle cx="489.3" cy="439.2" r="0.95" fill="#111"/>
<circle cx="492.4" cy="439.2" r="0.95" fill="#111"/>
<text x="490.8" y="562.4" font-size="7.9" text-anchor="middle" fill="#1b1b1b" stroke="#1b1b1b" stroke-width="0.25">hypoxia</text>
<line x1="427.8" y1="446.4" x2="427.8" y2="552.4" stroke="#111" stroke-width="1.6"/>
<line x1="427" y1="551.5" x2="512" y2="551.5" stroke="#111" stroke-width="1.8"/>
<rect x="344.2" y="576.6" width="5.3" height="5.3" fill="#2d4c84"/>
<rect x="344.2" y="588.8" width="5.3" height="5.3" fill="#b0042c"/>
<text x="352.8" y="582.2" font-size="7.8" fill="#1b1b1b" stroke="#1b1b1b" stroke-width="0.25">Scr</text>
<text x="352.8" y="594.7" font-size="7.8" fill="#1b1b1b" stroke="#1b1b1b" stroke-width="0.25">siMALAT1</text>
<defs><filter id="bl" x="-30%" y="-80%" width="160%" height="260%"><feGaussianBlur stdDeviation="1.3 1.1"/></filter><filter id="bl2" x="-30%" y="-80%" width="160%" height="260%"><feGaussianBlur stdDeviation="1.0 0.8"/></filter></defs>
<rect x="49.3" y="593.2" width="136.6" height="25" fill="#d7d7d7"/>
<rect x="57.4" y="604" width="22.8" height="5.6" rx="2.6" fill="#959595" opacity="0.85" filter="url(#bl)"/>
<rect x="91.4" y="604" width="22.6" height="5.6" rx="2.6" fill="#989898" opacity="0.82" filter="url(#bl)"/>
<rect x="123.8" y="602.2" width="21.4" height="8.4" rx="2.6" fill="#262626" opacity="0.92" filter="url(#bl)"/>
<rect x="156" y="603.4" width="18.8" height="6" rx="2.6" fill="#8a8a8a" opacity="0.85" filter="url(#bl)"/>
<rect x="125.5" y="608.5" width="18" height="7.5" rx="3" fill="#9a9a9a" opacity="0.6" filter="url(#bl)"/>
<rect x="49.3" y="593.2" width="136.6" height="25.0" fill="none" stroke="#000" stroke-width="1.8"/>
<rect x="49.3" y="624.6" width="136.6" height="24.6" fill="#d1d1d1"/>
<rect x="61.4" y="633.9" width="24.4" height="6.5" rx="2.5" fill="#050505" filter="url(#bl2)"/>
<rect x="92.4" y="634.1" width="24.2" height="6.5" rx="2.5" fill="#050505" filter="url(#bl2)"/>
<rect x="123.4" y="633.9" width="21.6" height="6.3" rx="2.5" fill="#050505" filter="url(#bl2)"/>
<rect x="153.6" y="635.6" width="22.2" height="6.2" rx="2.5" fill="#050505" filter="url(#bl2)"/>
<rect x="49.3" y="624.6" width="136.6" height="24.6" fill="none" stroke="#000" stroke-width="1.8"/>
<text x="46" y="609" font-size="8.3" text-anchor="end" fill="#1b1b1b" stroke="#1b1b1b" stroke-width="0.25">HIF-1α</text>
<text x="46" y="640.4" font-size="8.3" text-anchor="end" fill="#1b1b1b" stroke="#1b1b1b" stroke-width="0.25">tubulin</text>
<text x="73.8" y="659.2" font-size="8.3" text-anchor="middle" fill="#1b1b1b" stroke="#1b1b1b" stroke-width="0.25">Scr</text>
<text x="105" y="659.2" font-size="8.3" text-anchor="middle" fill="#1b1b1b" stroke="#1b1b1b" stroke-width="0.25">siMALAT1</text>
<text x="134.3" y="659.2" font-size="8.3" text-anchor="middle" fill="#1b1b1b" stroke="#1b1b1b" stroke-width="0.25">Scr</text>
<text x="166.8" y="659.2" font-size="8.3" text-anchor="middle" fill="#1b1b1b" stroke="#1b1b1b" stroke-width="0.25">siMALAT1</text>
<line x1="65.8" y1="663.2" x2="124.3" y2="663.2" stroke="#111" stroke-width="1.2"/>
<line x1="128" y1="663.2" x2="186.3" y2="663.2" stroke="#111" stroke-width="1.2"/>
<text x="95.2" y="676" font-size="7.9" text-anchor="middle" fill="#1b1b1b" stroke="#1b1b1b" stroke-width="0.25">normoxia</text>
<text x="157.5" y="676" font-size="7.9" text-anchor="middle" fill="#1b1b1b" stroke="#1b1b1b" stroke-width="0.25">hypoxia</text>
</svg>
</body></html>
